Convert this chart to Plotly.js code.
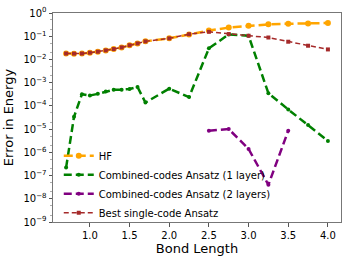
<!DOCTYPE html>
<html>
<head>
<meta charset="utf-8">
<script src="https://cdn.plot.ly/plotly-3.0.1.min.js"></script>
<style>html,body{margin:0;padding:0;background:#fff;}#chart{width:349px;height:262px;}</style>
</head>
<body>
<div id="chart"></div>
<script>
const bondLengths = [0.7,0.8,0.9,1.0,1.1,1.2,1.3,1.4,1.5,1.6,1.7,2.0,2.25,2.5,2.75,3.0,3.25,3.5,3.75,4.0];
const hfError = [0.018,0.0178,0.018,0.0195,0.0215,0.0245,0.028,0.033,0.041,0.049,0.060,0.081,0.12,0.175,0.235,0.285,0.325,0.345,0.355,0.37];
const oneLayerError = [2.2e-7,3.4e-5,3.2e-4,2.8e-4,3.3e-4,4.2e-4,5.0e-4,5.0e-4,5.3e-4,6.5e-4,1.4e-4,5.5e-4,2.4e-4,3.0e-2,1.2e-1,1.05e-1,3.5e-4,7.0e-5,1.5e-5,3.1e-6];
const twoLayerBonds = [2.5,2.75,3.0,3.25,3.5];
const twoLayerError = [8.5e-6,1.0e-5,1.4e-6,4.0e-8,8.5e-6];
const bestSingleError = [0.018,0.0178,0.018,0.0195,0.0215,0.0245,0.028,0.033,0.041,0.049,0.060,0.081,0.122,0.155,0.124,0.105,0.088,0.058,0.039,0.027];
const seriesNames = ["HF","Combined-codes Ansatz (1 layer)","Combined-codes Ansatz (2 layers)","Best single-code Ansatz"];
const yTickVals = [1e-9,1e-8,1e-7,1e-6,1e-5,1e-4,1e-3,1e-2,1e-1,1];
const yTickText = ["10<sup>\u22129</sup>","10<sup>\u22128</sup>","10<sup>\u22127</sup>","10<sup>\u22126</sup>","10<sup>\u22125</sup>","10<sup>\u22124</sup>","10<sup>\u22123</sup>","10<sup>\u22122</sup>","10<sup>\u22121</sup>","10<sup>0</sup>"];
const xTickVals = [1.0,1.5,2.0,2.5,3.0,3.5,4.0];

const traces = [
  {x: bondLengths, y: hfError, name: seriesNames[0], mode: 'lines+markers',
   line: {color: '#FFA500', width: 2.5, dash: '9px,4px'}, marker: {color: '#FFA500', size: 6, symbol: 'circle'}},
  {x: bondLengths, y: oneLayerError, name: seriesNames[1], mode: 'lines+markers',
   line: {color: '#008000', width: 2.5, dash: '8px,4px'}, marker: {color: '#008000', size: 4, symbol: 'circle'}},
  {x: twoLayerBonds, y: twoLayerError, name: seriesNames[2], mode: 'lines+markers',
   line: {color: '#800080', width: 2.5, dash: '8px,4px'}, marker: {color: '#800080', size: 4, symbol: 'circle'}},
  {x: bondLengths, y: bestSingleError, name: seriesNames[3], mode: 'lines+markers',
   line: {color: '#A52A2A', width: 1.5, dash: '5px,3px'}, marker: {color: '#A52A2A', size: 4, symbol: 'square'}}
];

const font = {family: 'DejaVu Sans, sans-serif', color: '#000'};
const layout = {
  width: 349, height: 262,
  margin: {l: 53, r: 8, t: 13, b: 40, pad: 0},
  paper_bgcolor: '#fff', plot_bgcolor: '#fff',
  font: Object.assign({size: 10}, font),
  showlegend: true,
  legend: {x: 0.02, y: -0.025, xanchor: 'left', yanchor: 'bottom', bgcolor: 'rgba(255,255,255,0)',
           font: Object.assign({size: 10}, font), itemwidth: 30, tracegroupgap: 0},
  xaxis: {range: [0.535, 4.165], tickvals: xTickVals, tickformat: '.1f', ticks: 'outside', ticklen: 3.5,
          tickcolor: '#555', linecolor: '#777', linewidth: 1, mirror: true, showline: true, showgrid: false, zeroline: false,
          tickfont: Object.assign({size: 10}, font),
          title: {text: 'Bond Length', font: Object.assign({size: 13}, font), standoff: 4}},
  yaxis: {type: 'log', range: [-9, 0], tickvals: yTickVals, ticktext: yTickText, ticks: 'outside', ticklen: 3.5,
          tickcolor: '#555', linecolor: '#777', linewidth: 1, mirror: true, showline: true, showgrid: false, zeroline: false,
          tickfont: Object.assign({size: 10}, font),
          minor: {ticks: 'outside', ticklen: 2, tickcolor: '#777', tickwidth: 0.6, showgrid: false},
          title: {text: 'Error in Energy', font: Object.assign({size: 13}, font), standoff: 6}}
};
Plotly.newPlot('chart', traces, layout, {displayModeBar: false, staticPlot: true});
</script>
</body>
</html>
